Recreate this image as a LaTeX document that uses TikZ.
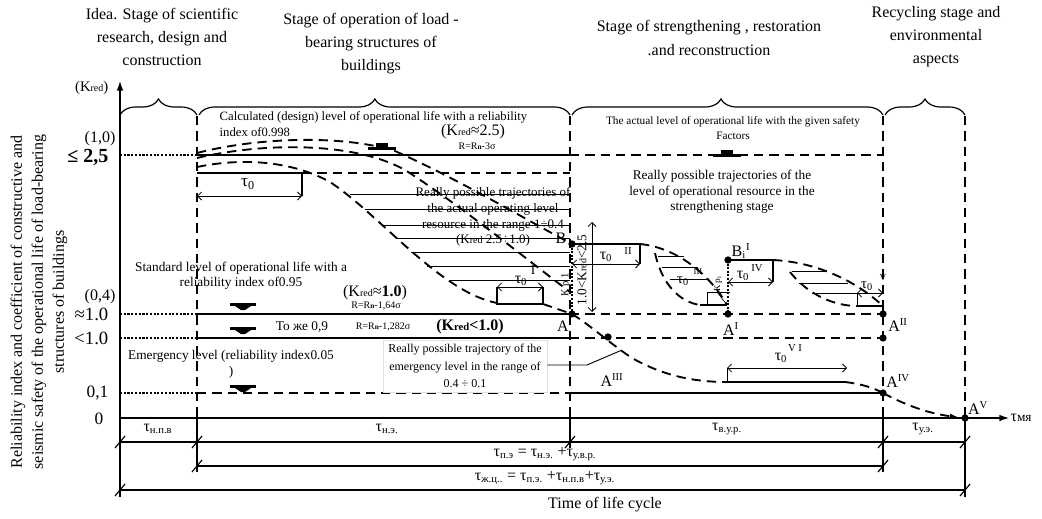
\documentclass[tikz,border=0pt]{standalone}
\usepackage{fontspec}
\setmainfont{Liberation Serif}
\usetikzlibrary{decorations.pathreplacing,arrows.meta}
\newcommand\fs[2]{\fontsize{#1}{#2}\selectfont}
\newcommand\Kred{K{\fs{7.5}{8}red}}
\newcommand\Rn{R=R{\fs{5.5}{6}\textbf{n}}}
\begin{document}
\begin{tikzpicture}[x=0.75pt,y=-0.75pt,
  stagedash/.style={line width=1.4pt,dash pattern=on 7pt off 4.5pt},
  curvedash/.style={line width=1.4pt,dash pattern=on 7pt off 4.5pt},
  leveldot/.style={line width=1.1pt,dash pattern=on 1.6pt off 1.2pt},
  levelsolid/.style={line width=0.9pt},
  heavy/.style={line width=1.6pt},
  hair/.style={line width=0.5pt},
  axisline/.style={line width=1.8pt,-{Latex[length=8pt,width=5pt]}},
  brc/.style={decorate,decoration={brace,amplitude=12pt},line width=0.9pt},
  dot/.style={circle,fill,inner sep=0pt,minimum size=5.5pt},
  hdr/.style={font=\fs{12}{17.3},align=center},
  small/.style={font=\fs{7.5}{9}},
  dimarrow/.style={line width=0.6pt,{Straight Barb[length=3pt]}-{Straight Barb[length=3pt]}},
  tickmark/.style={line width=0.9pt},
  downmark/.pic={\fill (-13,-4) rectangle (13,-1); \fill (-8,-1)--(8,-1)--(2,3)--(-2,3)--cycle;},
  upmark/.pic={\fill (-14,0) rectangle (14,-3); \fill (-6,-3) rectangle (6,-7);},
]
\useasboundingbox (0,0) rectangle (1042,518);

% ---------- headers ----------
\node[hdr] (h1) at (162,37) {Idea. Stage of scientific\\research, design and\\construction};
\node[hdr] (h2) at (371,44) {Stage of operation of load -\\bearing structures of\\buildings};
\node[hdr] (h3) at (709,38) {Stage of strengthening , restoration\\.and reconstruction};
\node[hdr] (h4) at (936,37) {Recycling stage and\\environmental\\aspects};

% ---------- braces ----------
\draw[brc] (120,115) -- (197,115);
\draw[brc,decoration={aspect=0.474}] (199,115) -- (570,115);
\draw[brc,decoration={aspect=0.479}] (572,115) -- (883,115);
\draw[brc] (885,115) -- (965,115);

% ---------- y-axis label ----------
\node[font=\fs{12}{15.7},align=center,rotate=90] (ylab) at (39,302)
 {Reliability index and coefficient of constructive and\\seismic safety of the operational life of load-bearing\\structures of buildings};

% ---------- axes ----------
\coordinate (O) at (120,418);
\coordinate (Ytop) at (120,80);
\coordinate (Xend) at (1010,418);
\draw[axisline] (O) -- (Ytop);
\draw[axisline] (O) -- (Xend);
\node[font=\fs{11}{12},anchor=east] (kredax) at (113,88) {(\Kred)};
\node[font=\fs{12}{13},anchor=west,inner sep=1pt] (tmya) at (1009,418) {τ{\fs{10}{11}мя}};

% level labels
\node[font=\fs{12}{13}] (l10) at (100,139) {(1,0)};
\node[font=\fs{15}{16}\bfseries,anchor=east] (l25) at (113,157) {≤ 2,5};
\node[font=\fs{12}{13}] (l04) at (100,297) {(0,4)};
\node[font=\fs{14}{15},anchor=east] (l1a) at (113,314) {≈1.0};
\node[font=\fs{14}{15},anchor=east] (l1b) at (113,338) {<1.0};
\node[font=\fs{13}{14},anchor=east] (l01) at (113,393) {0,1};
\node[font=\fs{13}{14},anchor=east] (l0) at (108,419) {0};

% ---------- stage verticals ----------
\draw[stagedash] (197,116) -- (197,418);
\draw[stagedash] (570,116) -- (570,418);
\draw[stagedash] (883,116) -- (883,418);
\draw[stagedash] (965,116) -- (965,418);

% ---------- horizontal levels ----------
\draw[leveldot] (120,155) -- (197,155);
\draw[levelsolid] (197,155) -- (570,155);
\draw[curvedash] (570,155) -- (883,155);
\draw[leveldot] (120,314) -- (197,314);
\draw[levelsolid] (197,314) -- (570,314);
\draw[curvedash] (570,314) -- (883,314);
\draw[leveldot] (120,338) -- (197,338);
\draw[levelsolid] (197,338) -- (570,338);
\draw[curvedash] (570,338) -- (883,338);
\draw[leveldot] (120,393) -- (197,393);
\draw[curvedash] (197,393) -- (570,393);
\draw[levelsolid] (570,393) -- (883,393);
\draw[curvedash] (302,173) -- (570,173);

% ---------- region 1 ----------
\node[font=\fs{9.5}{11},anchor=west] (calc1) at (215,117) {Calculated (design) level of operational life with a reliability};
\node[font=\fs{9.5}{11},anchor=west] (calc2) at (215,132) {index of0.998};
\node[font=\fs{12}{13}] (k25) at (473,132) {(\Kred≈2.5)};
\node[small] (r3) at (477,146) {\Rn-3σ};
\pic at (382,150) {upmark};

% tau0 box (start)
\draw[heavy] (197,173) -- (302,173) -- (302,196);
\draw[dimarrow] (197,196) -- (302,196);
\node[font=\fs{13}{14}] (t0a) at (248,184) {τ\textsubscript{0}};

% curves
\draw[curvedash] (197,153) .. controls (255,138) and (340,134) .. (395,151) .. controls (460,180) and (530,222) .. (572,244);
\draw[curvedash] (197,158) .. controls (265,142) and (355,142) .. (405,170) .. controls (460,205) and (530,262) .. (570,292);
\draw[curvedash] (197,167) .. controls (240,158) and (290,160) .. (330,182) .. controls (380,215) and (440,292) .. (497,303);
\draw[curvedash] (543,304) -- (572,314);

% hatch lines region 1
\foreach \xx/\yy in {350/194,365/209,383/225,396/238,411/252,427/266,450/280}
  \draw[hair] (\xx,\yy) -- (570,\yy);

\node[font=\fs{9.75}{11.8},align=center] (traj1) at (493,217) {Really possible trajectories of\\the actual operating level\\resource in the range 1÷0.4\\(\Kred\ 2.5÷1.0)};

% tau0 I box
\draw[dimarrow] (497,287) -- (543,287);
\draw[heavy] (497,287) -- (497,304) -- (543,304) -- (543,287);
\node[font=\fs{12}{13}] (t0I) at (521,281) {τ\textsubscript{0}};
\node[font=\fs{10}{11}] (t0Ii) at (533,270) {I};

% standard level
\node[font=\fs{10}{11.3},align=center] (std) at (241,276) {Standard level of operational life with a\\reliability index of0.95};
\pic at (243,307) {downmark};
\node[font=\fs{12}{13}] (k10) at (375,293) {(\Kred≈\textbf{1.0})};
\node[small] (r164) at (376,306) {\Rn-1,64σ};
\node[font=\fs{10}{11}] (toje) at (302,327) {То же 0,9};
\pic at (243,331) {downmark};
\node[small] (r1282) at (383,327) {\Rn-1,282σ};
\node[font=\fs{12}{13}\bfseries] (klt) at (470,327) {(K{\fs{8}{9}red}<1.0)};

% emergency
\node[font=\fs{10}{12},align=center] (emer) at (231,364) {Emergency level (reliability index0.05\\)};
\pic at (243,389) {downmark};
\node[font=\fs{9}{13},align=center,draw=gray!25,line width=0.4pt,minimum width=123pt,minimum height=39pt] (emtraj) at (465,366) {Really possible trajectory of the\\emergency level in the range of\\0.4 ÷ 0.1};

% ---------- points ----------
\coordinate (B) at (572,244);
\coordinate (A) at (572,314);
\coordinate (C1) at (608,337);
\coordinate (AI) at (728,314);
\coordinate (BI) at (728,260);
\coordinate (AII) at (883,314);
\coordinate (C2) at (883,338);
\coordinate (AIV) at (883,393);
\coordinate (AV) at (965,418);

\node[font=\fs{12}{13}] (Blab) at (561,238) {B};
\node[font=\fs{12}{13}] (Alab) at (563,326) {A};

% vertical range near B
\draw[line width=0.8pt,dash pattern=on 1.5pt off 1.2pt] (B) -- (A);
\draw[dimarrow] (592,222) -- (592,312);
\node[font=\fs{10}{11},rotate=90] (kr1) at (582,270) {1.0<\Kred<2.5};
\node[font=\fs{8}{9},rotate=90] (kp1) at (566,285) {К р 1};

% tau0 II
\draw[heavy] (B) -- (640,244) -- (640,264);
\draw[dimarrow] (572,264) -- (640,264);
\node[font=\fs{12}{13}] (t0II) at (606,257) {τ\textsubscript{0}};
\node[font=\fs{8}{9}] (t0IIi) at (628,251) {II};

% lens 2
\draw[curvedash] (640,244) .. controls (680,248) and (712,278) .. (727,305);
\draw[curvedash] (655,253) .. controls (662,285) and (680,302) .. (700,305);
\foreach \xa/\xb/\yy in {658/684/256,662/698/267,670/708/279}
  \draw[hair] (\xa,\yy) -- (\xb,\yy);
\draw[hair] (707,292) -- (730,292);
\draw[heavy] (700,305) -- (727,305);
\draw[hair] (707,292) -- (707,305);
\draw[hair] (717,292) -- (727,305);
\node[font=\fs{11}{12}] (t0III) at (683,281) {τ\textsubscript{0}};
\node[font=\fs{6.5}{7}] (t0IIIi) at (698,272) {III};

% B_i^I and tau0 IV
\draw[line width=0.8pt,dash pattern=on 1.5pt off 1.2pt] (BI) -- (AI);
\draw[heavy] (BI) -- (773,260) -- (773,282);
\draw[dimarrow] (728,282) -- (773,282);
\node[font=\fs{12}{13}] (t0IV) at (743,276) {τ\textsubscript{0}};
\node[font=\fs{8}{9}] (t0IVi) at (757,268) {IV};
\node[font=\fs{12}{13}] (Bilab) at (741,251) {B\textsubscript{i}\textsuperscript{I}};
\node[font=\fs{7}{8},rotate=90] (kpi) at (718,284) {К р\textsubscript{i}};
\node[font=\fs{12}{13}] (AIlab) at (731,329) {A\textsuperscript{I}};

% lens 3
\draw[curvedash] (773,260) .. controls (815,262) and (855,280) .. (883,306);
\draw[curvedash] (790,272) .. controls (808,295) and (835,306) .. (857,306);
\foreach \xa/\xb/\yy in {792/826/271,799/848/283,812/857/293}
  \draw[hair] (\xa,\yy) -- (\xb,\yy);
\draw[dimarrow] (857,293) -- (883,293);
\draw[hair] (857,293) -- (857,306);
\draw[heavy] (857,306) -- (883,306) -- (AII);
\node[font=\fs{11}{12}] (t0V) at (867,286) {τ\textsubscript{0}};
\node[font=\fs{7}{8}] (t0Vi) at (883,278) {V};
\node[font=\fs{12}{13}] (AIIlab) at (898,325) {A\textsuperscript{II}};

% right texts
\node[font=\fs{8.5}{11.3},align=center] (actual) at (733,128) {The actual level of operational life with the given safety\\Factors};
\pic at (727,157) {upmark};
\node[font=\fs{10}{11.6},align=center] (traj2) at (722,192) {Really possible trajectories of the\\level of operational resource in the\\strengthening stage};

% emergency trajectory
\draw[curvedash] (A) .. controls (590,325) and (612,345) .. (632,358) .. controls (662,375) and (692,382) .. (727,382);
\draw[hair,line width=0.7pt] (emtraj.east |- 0,365) -- (587,365) -- (622,350);
\node[font=\fs{12}{13}] (AIIIlab) at (612,380) {A\textsuperscript{III}};
\draw[heavy] (727,382) -- (845,382);
\draw[hair] (727,368) -- (727,382);
\draw[dimarrow] (727,368) -- (847,368);
\node[font=\fs{12}{13}] (t0VI) at (781,358) {τ\textsubscript{0}};
\node[font=\fs{8}{9}] (t0VIi) at (795,348) {V I};
\draw[curvedash] (845,382) .. controls (862,384) and (874,388) .. (AIV);
\draw[curvedash,-{Latex[length=6pt,width=4pt]}] (AIV) .. controls (905,405) and (930,414) .. (958,417);
\node[font=\fs{12}{13}] (AIVlab) at (898,381) {A\textsuperscript{IV}};
\node[font=\fs{12}{13}] (AVlab) at (978,408) {A\textsuperscript{V}};

% dots
\foreach \p in {B,A,C1,AI,BI,AII,C2,AIV,AV}
  \node[dot] at (\p) {};

% ---------- bottom dimensions ----------
\draw[line width=0.8pt] (120,418) -- (120,497);
\draw[line width=0.8pt] (197,418) -- (197,472);
\draw[line width=0.8pt] (570,418) -- (570,448);
\draw[line width=0.8pt] (883,418) -- (883,472);
\draw[line width=0.8pt] (965,418) -- (965,497);
\draw[line width=0.8pt] (120,442) -- (965,442);
\draw[line width=0.8pt] (197,466) -- (883,466);
\draw[line width=0.8pt] (120,490) -- (965,490);
\draw[line width=1.6pt] (686,490) -- (830,490);
\foreach \xx/\yy in {120/442,197/442,570/442,883/442,965/442,197/466,883/466,120/490,965/490}
  \draw[tickmark] (\xx-5,\yy+6) -- (\xx+5,\yy-6);

\node[font=\fs{12}{13}] (tnpv) at (158,429) {τ\textsubscript{н.п.в}};
\node[font=\fs{12}{13}] (tne) at (387,429) {τ\textsubscript{н.э.}};
\node[font=\fs{12}{13}] (tvur) at (727,429) {τ\textsubscript{в.у.р.}};
\node[font=\fs{12}{13}] (tue) at (923,429) {τ\textsubscript{у.э.}};
\node[font=\fs{12}{13}] (tpe) at (545,454) {τ\textsubscript{п.э} = τ\textsubscript{н.э.} +τ\textsubscript{у.в.р.}};
\node[font=\fs{12}{13}] (tzc) at (545,478) {τ\textsubscript{ж.ц..} = τ\textsubscript{п.э.} +τ\textsubscript{н.п.в}+τ\textsubscript{у.э.}};
\node[font=\fs{12}{13}] (tlc) at (605,505) {Time of life cycle};
\end{tikzpicture}
\end{document}
